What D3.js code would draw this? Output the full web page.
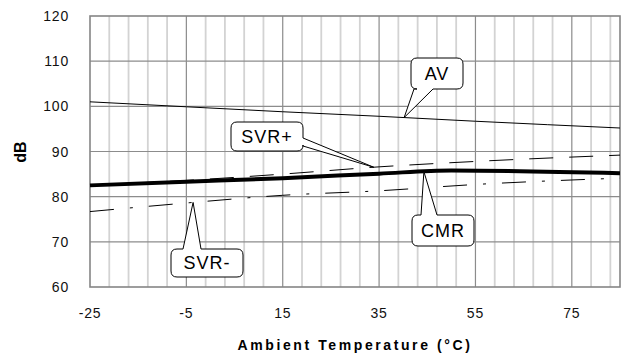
<!DOCTYPE html>
<html lang="en">
<head>
<meta charset="UTF-8">
<script src="https://cdn.jsdelivr.net/npm/d3@7"></script>
<title>dB vs Ambient Temperature</title>
<style>
    body { margin: 0; background: #fff; }
    svg { display: block; font-family: "Liberation Sans", Arial, sans-serif; }
</style>
</head>
<body>
<script>
    // chart values
    const temps = [-25, -5, 15, 35, 55, 85];
    const cmrTemps = [-25, -5, 15, 35, 50, 85];
    const avValues = [101.0, 99.9, 98.8, 97.8, 96.7, 95.2];
    const svrPlusValues = [82.6, 83.6, 85.0, 86.6, 87.8, 89.2];
    const svrMinusValues = [76.7, 78.6, 80.3, 81.3, 82.7, 84.1];
    const cmrValues = [82.5, 83.3, 84.1, 85.1, 85.8, 85.2];
    const xTicks = [-25, -5, 15, 35, 55, 75];
    const yTicks = [60, 70, 80, 90, 100, 110, 120];
    const calloutLabels = ["AV", "SVR+", "CMR", "SVR-"];
    const calloutTemps = [40.2, 33.9, 44.3, -3.6];

    const width = 621, height = 357;
    const plot = {left: 90, right: 620, top: 16, bottom: 287};

    const x = d3.scaleLinear().domain([-25, 85]).range([plot.left, plot.right]);
    const y = d3.scaleLinear().domain([60, 120]).range([plot.bottom, plot.top]);

    const svg = d3.select("body").append("svg")
        .attr("width", width)
        .attr("height", height);

    // vertical grid, every 4 degrees, darker at the labelled ticks
    const vLines = d3.range(-21, 85, 4);
    svg.append("g").selectAll("line")
        .data(vLines)
        .enter()
        .append("line")
        .attr("x1", d => x(d)).attr("x2", d => x(d))
        .attr("y1", plot.top).attr("y2", plot.bottom)
        .attr("stroke", d => xTicks.includes(d) ? "#8c8c8c" : "#d3d3d3")
        .attr("stroke-width", d => xTicks.includes(d) ? 1.2 : 1.8);

    // horizontal grid
    svg.append("g").selectAll("line")
        .data(yTicks.slice(1, -1))
        .enter()
        .append("line")
        .attr("x1", plot.left).attr("x2", plot.right)
        .attr("y1", d => y(d)).attr("y2", d => y(d))
        .attr("stroke", "#8c8c8c")
        .attr("stroke-width", 1.2);

    // frame
    svg.append("rect")
        .attr("x", plot.left).attr("y", plot.top)
        .attr("width", plot.right - plot.left)
        .attr("height", plot.bottom - plot.top)
        .attr("fill", "none")
        .attr("stroke", "#858585")
        .attr("stroke-width", 1.6);

    // tick labels
    svg.append("g").selectAll("text")
        .data(yTicks)
        .enter()
        .append("text")
        .attr("x", 69)
        .attr("y", d => y(d))
        .attr("dy", "0.36em")
        .attr("text-anchor", "end")
        .attr("font-size", 14)
        .attr("letter-spacing", 0.8)
        .attr("fill", "#111")
        .text(d => d);

    svg.append("g").selectAll("text")
        .data(xTicks)
        .enter()
        .append("text")
        .attr("x", d => x(d))
        .attr("y", 318)
        .attr("text-anchor", "middle")
        .attr("font-size", 14)
        .attr("letter-spacing", 0.8)
        .attr("fill", "#111")
        .text(d => d);

    // axis titles
    svg.append("text")
        .attr("x", (plot.left + plot.right) / 2)
        .attr("y", 350)
        .attr("text-anchor", "middle")
        .attr("font-size", 14)
        .attr("font-weight", "bold")
        .attr("letter-spacing", 2.6)
        .text("Ambient Temperature (°C)");

    svg.append("text")
        .attr("transform", "translate(26,152) rotate(-90)")
        .attr("text-anchor", "middle")
        .attr("font-size", 16)
        .attr("font-weight", "bold")
        .text("dB");

    // curves
    const line = d3.line()
        .x(d => x(d[0]))
        .y(d => y(d[1]))
        .curve(d3.curveMonotoneX);

    const series = [
        {name: "AV", t: temps, v: avValues, w: 1, dash: null},
        {name: "SVR+", t: temps, v: svrPlusValues, w: 1, dash: "24,16"},
        {name: "SVR-", t: temps, v: svrMinusValues, w: 1, dash: "24,16,3,16"},
        {name: "CMR", t: cmrTemps, v: cmrValues, w: 4, dash: null}
    ];

    svg.append("g").selectAll("path")
        .data(series)
        .enter()
        .append("path")
        .attr("d", s => line(s.t.map((t, i) => [t, s.v[i]])))
        .attr("fill", "none")
        .attr("stroke", "#000")
        .attr("stroke-width", s => s.w)
        .attr("stroke-dasharray", s => s.dash);

    // callouts: box and tail, tip sits on its curve
    const valueAt = (s, t) => {
        const i = Math.max(1, d3.bisectLeft(s.t, t));
        const k = (t - s.t[i - 1]) / (s.t[i] - s.t[i - 1]);
        return s.v[i - 1] + k * (s.v[i] - s.v[i - 1]);
    };

    const boxes = {
        "AV":   {x0: 411, y0: 58,  x1: 463, y1: 89,  side: "bottom", a: 414, c: 433},
        "SVR+": {x0: 231, y0: 122, x1: 303, y1: 151, side: "right",  a: 138, c: 146},
        "CMR":  {x0: 412, y0: 215, x1: 474, y1: 246, side: "top",    a: 421, c: 437},
        "SVR-": {x0: 171, y0: 249, x1: 243, y1: 277, side: "top",    a: 183, c: 201}
    };

    function calloutPath(b, tip) {
        const r = 6;
        let p = `M${b.x0 + r},${b.y0}`;
        if (b.side === "top") p += `L${b.a},${b.y0}L${tip[0]},${tip[1]}L${b.c},${b.y0}`;
        p += `L${b.x1 - r},${b.y0}Q${b.x1},${b.y0} ${b.x1},${b.y0 + r}`;
        if (b.side === "right") p += `L${b.x1},${b.a}L${tip[0]},${tip[1]}L${b.x1},${b.c}`;
        p += `L${b.x1},${b.y1 - r}Q${b.x1},${b.y1} ${b.x1 - r},${b.y1}`;
        if (b.side === "bottom") p += `L${b.c},${b.y1}L${tip[0]},${tip[1]}L${b.a},${b.y1}`;
        p += `L${b.x0 + r},${b.y1}Q${b.x0},${b.y1} ${b.x0},${b.y1 - r}`;
        p += `L${b.x0},${b.y0 + r}Q${b.x0},${b.y0} ${b.x0 + r},${b.y0}Z`;
        return p;
    }

    const callouts = calloutLabels.map((name, i) => {
        const s = series.find(d => d.name === name);
        const t = calloutTemps[i];
        return {name: name, box: boxes[name], tip: [x(t), y(valueAt(s, t))]};
    });

    const cg = svg.append("g").selectAll("g")
        .data(callouts)
        .enter()
        .append("g");

    cg.append("path")
        .attr("d", d => calloutPath(d.box, d.tip))
        .attr("fill", "#fff")
        .attr("stroke", "#000")
        .attr("stroke-width", 1);

    cg.append("text")
        .attr("x", d => (d.box.x0 + d.box.x1) / 2)
        .attr("y", d => (d.box.y0 + d.box.y1) / 2)
        .attr("dy", "0.36em")
        .attr("text-anchor", "middle")
        .attr("font-size", 18)
        .attr("letter-spacing", 1)
        .text(d => d.name);
</script>
</body>
</html>
